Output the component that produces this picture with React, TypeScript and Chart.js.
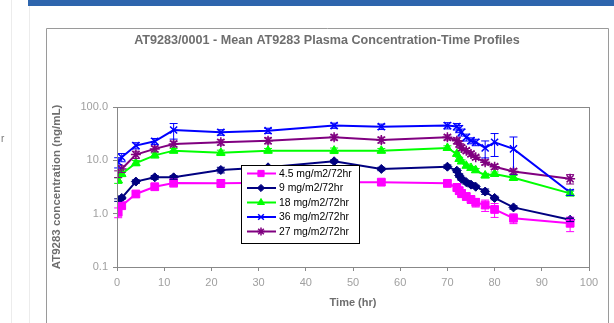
import React, { useEffect, useRef } from "react";
import { Chart, registerables } from "chart.js";
import { drawPoint } from "chart.js/helpers";

Chart.register(...registerables);

const times = [0.25, 1, 4, 8, 12, 22, 32, 46, 56, 70, 72, 72.5, 73, 74, 75, 76, 78, 80, 84, 96];

const dose45 = [1.06, 1.41, 2.34, 3.2, 3.77, 3.7, 3.8, 3.9, 3.9, 3.7, 3.1, 2.7, 2.4, 2.1, 1.85, 1.63, 1.45, 1.2, 0.82, 0.66];
const dose45Sd = [0.22, 0.15, 0.3, 0.4, 0.6, 0.6, 0.5, 0.5, 0.5, 0.5, 0.5, 0.4, 0.4, 0.3, 0.3, 0.3, 0.35, 0.35, 0.17, 0.2];

const dose9 = [1.8, 1.97, 4.0, 4.8, 4.8, 6.6, 7.4, 9.6, 6.9, 7.6, 6.4, 5.2, 4.5, 3.9, 3.5, 3.2, 2.6, 1.97, 1.31, 0.77];
const dose9Sd = [0.1, 0.1, 0.3, 0.4, 0.4, 0.8, 0.5, 0.6, 0.5, 0.6, 0.5, 0.4, 0.3, 0.3, 0.3, 0.2, 0.3, 0.15, 0.1, 0.06];

const dose18 = [4.2, 5.55, 8.9, 12.4, 15.2, 13.9, 15.2, 15.2, 15.2, 17.1, 13.2, 10.6, 9.5, 7.9, 7.2, 6.5, 5.2, 5.55, 4.7, 2.4];
const dose18Sd = [0.5, 0.6, 1, 1.3, 1.5, 1.6, 1.5, 1.8, 1.5, 1.6, 1, 0.8, 0.7, 0.6, 0.5, 0.5, 0.5, 0.5, 0.5, 0.25];

const dose36 = [9.2, 11.4, 18.9, 22.7, 37, 33.5, 36, 44.8, 42.8, 44.8, 43, 39, 33.5, 27, 23.4, 21.8, 17.1, 21.8, 16.4, 2.5];
const dose36Sd = [2, 2, 2.5, 3, 12, 4, 4, 5, 5, 6, 6, 6, 5, 4, 3, 3, 6, 10, 11, 0.3];

const dose27 = [5.55, 6.9, 12.8, 16.4, 20.3, 21.8, 23.4, 27, 24.1, 27, 23.4, 20.3, 17.1, 15.2, 13.2, 11.4, 9.2, 7.6, 6.2, 4.5];
const dose27Sd = [0.8, 1, 2, 2, 2.5, 2.5, 3, 3, 3, 3, 3, 2.5, 2, 1.5, 1.3, 1, 1, 0.8, 0.7, 0.9];

const seriesLabels = ["4.5 mg/m2/72hr", "9 mg/m2/72hr", "18 mg/m2/72hr", "36 mg/m2/72hr", "27 mg/m2/72hr"];
const yTicks = [0.1, 1, 10, 100];
const xTicks = [0, 10, 20, 30, 40, 50, 60, 70, 80, 90, 100];

const chartTitle = "AT9283/0001 - Mean AT9283 Plasma Concentration-Time Profiles";
const yTitle = "AT9283 concentration (ng/mL)";
const xTitle = "Time (hr)";

const FONT = "'Liberation Sans', Arial, sans-serif";

const styles = [
  { color: "#ff00ff", pointStyle: "rect", radius: 5.5, bw: 1 },
  { color: "#000080", pointStyle: "rectRot", radius: 4.5, bw: 1 },
  { color: "#00ff00", pointStyle: "triangle", radius: 5, bw: 1 },
  { color: "#0000ff", pointStyle: "crossRot", radius: 5, bw: 1.5 },
  { color: "#800080", pointStyle: "star", radius: 5, bw: 1.5 },
];

const values = [dose45, dose9, dose18, dose36, dose27];
const sds = [dose45Sd, dose9Sd, dose18Sd, dose36Sd, dose27Sd];

const pagePlugin = {
  id: "page",
  beforeDraw(chart: any) {
    const ctx = chart.ctx;
    ctx.save();
    ctx.fillStyle = "#ffffff";
    ctx.fillRect(0, 0, chart.width, chart.height);
    ctx.strokeStyle = "#ececec";
    ctx.lineWidth = 1;
    ctx.beginPath();
    ctx.moveTo(11.5, 0);
    ctx.lineTo(11.5, 323);
    ctx.moveTo(29.5, 0);
    ctx.lineTo(29.5, 323);
    ctx.stroke();
    ctx.fillStyle = "#2e65ad";
    ctx.fillRect(28, 0, 586, 6);
    ctx.strokeStyle = "#9a9a9a";
    ctx.beginPath();
    ctx.moveTo(46.5, 330);
    ctx.lineTo(46.5, 28.5);
    ctx.lineTo(608.5, 28.5);
    ctx.lineTo(608.5, 330);
    ctx.stroke();
    ctx.fillStyle = "#6e6e6e";
    ctx.font = "bold 12.6px " + FONT;
    ctx.textAlign = "center";
    ctx.textBaseline = "middle";
    ctx.fillText(chartTitle, 327, 41);
    ctx.fillStyle = "#777";
    ctx.font = "10px " + FONT;
    ctx.textAlign = "left";
    ctx.fillText("r", 1, 139);
    ctx.restore();
  },
  afterDatasetsDraw(chart: any) {
    const ctx = chart.ctx;
    const xs = chart.scales.x;
    const ys = chart.scales.y;
    ctx.save();
    ctx.lineWidth = 1;
    values.forEach((vals, i) => {
      ctx.strokeStyle = styles[i].color;
      vals.forEach((v, j) => {
        const sd = sds[i][j];
        const x = xs.getPixelForValue(times[j]);
        const yTop = ys.getPixelForValue(v + sd);
        const yBot = ys.getPixelForValue(Math.max(v - sd, 0.101));
        ctx.beginPath();
        ctx.moveTo(x, yTop);
        ctx.lineTo(x, yBot);
        ctx.moveTo(x - 4, yTop);
        ctx.lineTo(x + 4, yTop);
        ctx.moveTo(x - 4, yBot);
        ctx.lineTo(x + 4, yBot);
        ctx.stroke();
      });
    });
    ctx.restore();
  },
  afterDraw(chart: any) {
    const ctx = chart.ctx;
    const a = chart.chartArea;
    ctx.save();
    ctx.strokeStyle = "#888";
    ctx.lineWidth = 1;
    ctx.strokeRect(Math.round(a.left) + 0.5, Math.round(a.top) + 0.5, Math.round(a.right - a.left), Math.round(a.bottom - a.top));
    // legend
    const lx = 241.5, ly = 165.5, lw = 118, lh = 78;
    ctx.fillStyle = "#ffffff";
    ctx.fillRect(lx, ly, lw, lh);
    ctx.strokeStyle = "#000";
    ctx.strokeRect(lx, ly, lw, lh);
    ctx.font = "10.4px " + FONT;
    ctx.textAlign = "left";
    ctx.textBaseline = "middle";
    seriesLabels.forEach((lab, i) => {
      const y = 173.5 + i * 14.5;
      const s = styles[i];
      ctx.strokeStyle = s.color;
      ctx.lineWidth = 2;
      ctx.beginPath();
      ctx.moveTo(247, y);
      ctx.lineTo(276, y);
      ctx.stroke();
      ctx.fillStyle = s.color;
      ctx.lineWidth = s.bw;
      drawPoint(ctx, { pointStyle: s.pointStyle, radius: s.radius * 0.8, rotation: 0, borderWidth: s.bw } as any, 261, y);
      ctx.fillStyle = "#000";
      ctx.fillText(lab, 279, y + 0.5);
    });
    ctx.restore();
  },
};

export default function App() {
  const ref = useRef<HTMLCanvasElement>(null);
  useEffect(() => {
    if (!ref.current) return;
    const chart = new Chart(ref.current, {
      type: "line",
      data: {
        datasets: values.map((vals, i) => ({
          label: seriesLabels[i],
          data: vals.map((v, j) => ({ x: times[j], y: v })),
          borderColor: styles[i].color,
          backgroundColor: styles[i].color,
          pointBackgroundColor: styles[i].color,
          pointBorderColor: styles[i].color,
          pointStyle: styles[i].pointStyle as any,
          pointRadius: styles[i].radius,
          pointBorderWidth: styles[i].bw,
          borderWidth: 2,
          tension: 0,
          fill: false,
        })),
      },
      options: {
        animation: false,
        responsive: false,
        devicePixelRatio: 1,
        layout: { padding: { left: 50, right: 25, top: 107, bottom: 9 } },
        plugins: { legend: { display: false }, tooltip: { enabled: false }, title: { display: false } },
        scales: {
          x: {
            type: "linear",
            min: 0,
            max: 100,
            afterBuildTicks: (s: any) => { s.ticks = xTicks.map((v) => ({ value: v })); },
            afterFit: (s: any) => { s.height = 47; },
            ticks: { color: "#a0a0a0", font: { size: 11, family: FONT }, padding: 5, maxRotation: 0, autoSkip: false },
            grid: { drawOnChartArea: false, tickLength: 4, color: "#888" },
            border: { color: "#888" },
            title: { display: true, text: xTitle, color: "#6e6e6e", font: { size: 11, weight: "bold", family: FONT }, padding: { top: 4, bottom: 4 } },
          },
          y: {
            type: "logarithmic",
            min: 0.1,
            max: 100,
            afterBuildTicks: (s: any) => { s.ticks = yTicks.map((v) => ({ value: v })); },
            afterFit: (s: any) => { s.width = 67; },
            ticks: { color: "#a0a0a0", font: { size: 11, family: FONT }, padding: 5, autoSkip: false, callback: (v: any) => Number(v).toFixed(1) },
            grid: { drawOnChartArea: false, tickLength: 4, color: "#888" },
            border: { color: "#888" },
            title: { display: true, text: yTitle, color: "#6e6e6e", font: { size: 11.5, weight: "bold", family: FONT }, padding: { top: 0, bottom: 0 } },
          },
        },
      },
      plugins: [pagePlugin],
    } as any);
    return () => chart.destroy();
  }, []);
  return (
    <div style={{ position: "fixed", left: 0, top: 0, width: 614, height: 323 }}>
      <canvas ref={ref} width={614} height={323} style={{ display: "block", width: 614, height: 323 }} />
    </div>
  );
}
